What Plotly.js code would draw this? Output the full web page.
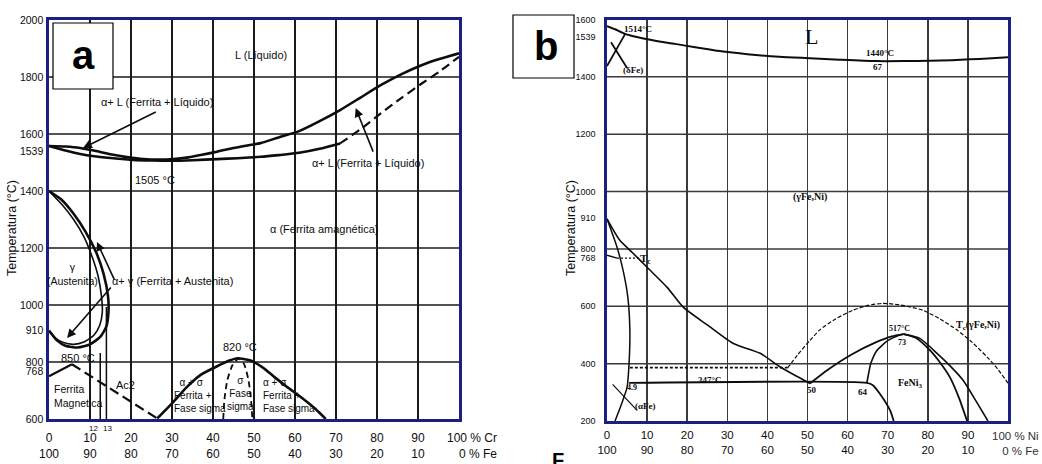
<!DOCTYPE html>
<html><head><meta charset="utf-8">
<script src="https://cdn.plot.ly/plotly-3.0.1.min.js"></script>
<style>html,body{margin:0;padding:0;background:#fff}#chart{width:1042px;height:464px}</style>
</head><body><div id="chart"></div>
<script>
// ---------- Chart a : Fe-Cr ----------
const aXTicks = [0,10,20,30,40,50,60,70,80,90,100];
const aXTop = ['0','10','20','30','40','50','60','70','80','90',''];
const aXBottom = ['100','90','80','70','60','50','40','30','20','10',''];
const aYTicks = [600,768,800,910,1000,1200,1400,1539,1600,1800,2000];
const aHGrid = [800,1000,1200,1400,1600,1800];

const aLiqX = [0,4,7.6,12.5,16,19,23,27,30.3,34,37,41,45,48,51.6,56,61,66,71,76,81,86,91,95,100];
const aLiqT = [1558,1556,1551,1537,1526,1519,1512,1510,1512,1518,1526,1538,1551,1559,1568,1588,1610,1645,1684,1728,1772,1810,1842,1862,1883];
const aSolX = [0,4,7.6,11,15,20.6,25,30,35,41,46,51.6,56,61,66,71];
const aSolT = [1558,1542,1530,1522,1516,1509,1507,1506,1508,1512,1515,1520,1526,1534,1548,1567];
const aSolDashX = [71,76,81,86,91,95.5,100];
const aSolDashT = [1567,1617,1673,1727,1778,1822,1871];
const aLoopOutX = [0,3,6,9,11.5,13.3,14.4,14.5,14,12.5,10,7,4,2,0];
const aLoopOutT = [1400,1370,1320,1255,1185,1110,1030,975,925,888,862,851,857,875,910];
const aLoopInX = [0,3,6,8.5,10.5,12,12.8,13,12.4,11,8.5,6,3.5,1.5,0];
const aLoopInT = [1400,1355,1300,1240,1170,1100,1030,975,930,895,870,862,868,885,910];
const aAc2X = [0,5.6];
const aAc2T = [750,792];
const aAc2DashX = [5.6,26.4];
const aAc2DashT = [792,602];
const aSigmaX = [26.4,30,33.6,37,41,44,46,49,52,55,58,61.4,65,67.5];
const aSigmaT = [602,655,712,755,785,805,813,806,782,747,713,677,635,600];
const aSigmaDashX = [42.5,42.8,43.5,44.8,46.3,47.6,48.6,49.2,49.6];
const aSigmaDashT = [600,670,737,790,812,792,740,680,600];
const aMarkX = [12.5,14];
const aMarkTop = [832,993];
const aMarkLabels = ['12','13'];
const aMarkLabelX = [10.8,14.2];

// ---------- Chart b : Fe-Ni ----------
const bXTicks = [0,10,20,30,40,50,60,70,80,90,100];
const bXTop = ['0','10','20','30','40','50','60','70','80','90',''];
const bXBottom = ['100','90','80','70','60','50','40','30','20','10',''];
const bYTicks = [200,400,600,768,800,910,1000,1200,1400,1539,1600];
const bHGrid = [400,600,800,1000,1200,1400];

const bLiqX = [0,2,4.5,8,12,17,22,28,35,43,50.6,58,67,74,80.5,86,90.5,95,100];
const bLiqT = [1577,1566,1550,1537,1526,1515,1503,1490,1479,1470,1465,1460,1455,1455,1456,1458,1461,1464,1468];
const bDeltaAX = [0,4.5];
const bDeltaAT = [1438,1549];
const bDeltaBX = [1,5];
const bDeltaBT = [1521,1431];
const bSolvX = [0,3.2,6.5,10,15,19,25,31.5,38.2,43,46.5,50.6];
const bSolvT = [905,830,785,736,666,597,535,470,436,390,362,331];
const bAlphaX = [0,2.5,4,5.2,5.7,5.5,5,3.7,2];
const bAlphaT = [905,806,726,631,516,401,317,262,200];
const bTcX = [0,2.5];
const bTcT = [778,768];
const bTcDotX = [2.5,8.5];
const bTcDotT = [768,768];
const bMagX = [5.7,45];
const bMagT = [386,386];
const b347X = [5.5,64.8,66.3,68,70.6,71.5];
const b347T = [333,333,325,296,237,200];
const bDomeLX = [50.6,55,61,67,71,74];
const bDomeLT = [331,378,432,474,495,503];
const bDomeIX = [64.8,65.3,65.8,67.3,70,72.5,74];
const bDomeIT = [333,370,401,446,480,497,503];
const bDomeR1X = [74,77,80.5,83,85.5,87.8,89.8];
const bDomeR1T = [503,490,447,405,353,280,200];
const bDomeR2X = [74,78,82.3,85.5,88.8,92,95];
const bDomeR2T = [503,488,436,393,342,270,200];
const bTcNiX = [45,47.5,50.6,53,57,61.3,65,68.8,73,78.8,83,87.3,91,94.8,97.5,100];
const bTcNiT = [384,430,481,517,556,586,603,610,605,586,556,517,475,423,380,332];
const bLeadX = [1.4,7.5];
const bLeadT = [328,237];

// ---------- helpers ----------
const W = 1042, H = 464;
const PX = x => x / W, PY = y => 1 - y / H;
const SANS = '"Liberation Sans", Arial, sans-serif';
const SERIF = '"Liberation Serif", "Times New Roman", serif';
const INK = '#0d0d0d';
const NAVY = '#1b2080';

const traces = [];
function curve(x, y, ax, width, dash) {
  traces.push({x: x, y: y, xaxis: ax[0], yaxis: ax[1], mode: 'lines', hoverinfo: 'skip',
    line: {color: INK, width: width, dash: dash || 'solid', shape: 'spline', smoothing: 0.6}});
}
const A = ['x', 'y'], B = ['x2', 'y2'];
curve(aLiqX, aLiqT, A, 2.6);
curve(aSolX, aSolT, A, 2.6);
curve(aSolDashX, aSolDashT, A, 2.2, '9px,5px');
curve(aLoopOutX, aLoopOutT, A, 2.6);
curve(aLoopInX, aLoopInT, A, 1.6);
curve(aAc2X, aAc2T, A, 2.2);
curve(aAc2DashX, aAc2DashT, A, 2.2, '10px,5px');
curve(aSigmaX, aSigmaT, A, 2.6);
curve(aSigmaDashX, aSigmaDashT, A, 1.8, '6px,4px');
aMarkX.forEach((m, i) => curve([m, m], [600, aMarkTop[i]], A, 1.5));

curve(bLiqX, bLiqT, B, 2);
curve(bDeltaAX, bDeltaAT, B, 1.8);
curve(bDeltaBX, bDeltaBT, B, 1.8);
curve(bSolvX, bSolvT, B, 1.6);
curve(bAlphaX, bAlphaT, B, 1.5);
curve(bTcX, bTcT, B, 1.4);
curve(bTcDotX, bTcDotT, B, 1.3, '2px,2px');
curve(bMagX, bMagT, B, 1.6, '3px,2px');
curve(b347X, b347T, B, 1.8);
curve(bDomeLX, bDomeLT, B, 1.8);
curve(bDomeIX, bDomeIT, B, 1.6);
curve(bDomeR1X, bDomeR1T, B, 1.8);
curve(bDomeR2X, bDomeR2T, B, 1.6);
curve(bTcNiX, bTcNiT, B, 1.2, '4px,2px');
curve(bLeadX, bLeadT, B, 1.2);

const shapes = [];
aHGrid.forEach(v => shapes.push({type: 'line', xref: 'x domain', yref: 'y', x0: 0, x1: 1, y0: v, y1: v,
  line: {color: '#1a1a1a', width: 1.7}, layer: 'below'}));
bHGrid.forEach(v => shapes.push({type: 'line', xref: 'x2 domain', yref: 'y2', x0: 0, x1: 1, y0: v, y1: v,
  line: {color: '#3a3a3a', width: 1.5}, layer: 'below'}));
// label boxes
shapes.push({type: 'rect', xref: 'paper', yref: 'paper', x0: PX(53), x1: PX(113), y0: PY(89), y1: PY(23),
  line: {color: '#000', width: 1.2}, fillcolor: '#fff', layer: 'above'});
shapes.push({type: 'rect', xref: 'paper', yref: 'paper', x0: PX(513), x1: PX(574), y0: PY(78), y1: PY(15),
  line: {color: '#000', width: 1.2}, fillcolor: '#fff', layer: 'above'});

const anns = [];
function txt(text, x, y, ax, size, o) {
  anns.push(Object.assign({text: text, x: x, y: y, xref: ax[0], yref: ax[1], showarrow: false,
    xanchor: 'center', yanchor: 'middle',
    font: {family: SANS, size: size, color: INK}}, o || {}));
}
function arrow(x, y, tx, ty, ax) {
  anns.push({text: '', x: x, y: y, ax: tx, ay: ty, xref: ax[0], yref: ax[1], axref: ax[0], ayref: ax[1],
    showarrow: true, arrowhead: 2, arrowsize: 1.1, arrowwidth: 1.6, arrowcolor: INK});
}
// chart a texts
txt('L (Líquido)', 51.6, 1877, A, 11);
txt('α+ L (Ferrita + Líquido)', 26.4, 1712, A, 11);
arrow(8.3, 1551, 26.4, 1680, A);
txt('α+ L (Ferrita + Líquido)', 77.8, 1498, A, 11);
arrow(74.8, 1691, 79.2, 1533, A);
txt('1505 °C', 25.9, 1439, A, 11);
txt('α (Ferrita amagnética)', 67, 1267, A, 11);
txt('γ<br>(Austenita)', 5.8, 1110, A, 10.5);
txt('α+ γ (Ferrita + Austenita)', 30, 1084, A, 11);
arrow(11.7, 1221, 16.1, 1084, A);
arrow(4.4, 884, 15.4, 1067, A);
txt('850 °C', 7, 814, A, 11);
txt('Ac2', 18.6, 719, A, 11);
txt('Ferrita<br>Magnetica', 0.7, 681, A, 10.5, {xanchor: 'left', align: 'left'});
txt('  α + σ<br>Ferrita +<br>Fase sigma', 30.1, 684, A, 10, {xanchor: 'left', align: 'left'});
txt('σ<br>Fase<br>sigma', 46.6, 690, A, 10);
txt('α + σ<br>Ferrita +<br>Fase sigma', 51.6, 684, A, 10, {xanchor: 'left', align: 'left'});
txt('820 °C', 46.7, 853, A, 11);
aMarkLabels.forEach((t, i) => txt(t, aMarkLabelX[i], -0.024, ['x', 'y domain'], 8));
// chart b texts
const bS = (t, x, y, s, o) => txt(t, x, y, B, s, Object.assign({font: {family: SERIF, size: s, color: INK, weight: 'bold'}}, o || {}));
txt('L', 51.1, 1539, B, 22, {font: {family: SERIF, size: 22, color: INK}});
bS('1440°C', 68.1, 1483, 9);
bS('67', 67.6, 1434, 9);
bS('1514°C', 7.7, 1567, 9);
bS('(δFe)', 6.4, 1424, 9);
bS('(γFe,Ni)', 50.6, 981, 10);
bS('T<sub>c</sub>', 9.5, 766, 11);
bS('347°C', 25.7, 342, 9);
bS('50', 51, 307, 9);
bS('64', 63.9, 301, 9);
bS('FeNi<sub>3</sub>', 75.6, 330, 10);
bS('517°C', 73, 522, 8);
bS('73', 73.5, 475, 8);
bS('T<sub>c</sub>(γFe,Ni)', 92.6, 534, 10);
bS('4.9', 6.2, 318, 8);
bS('(αFe)', 9.5, 254, 9);

// paper texts: titles, panel letters, axis end labels
const paper = (t, x, y, size, o) => anns.push(Object.assign({text: t, x: PX(x), y: PY(y), xref: 'paper', yref: 'paper',
  xanchor: 'center', yanchor: 'middle', showarrow: false, font: {family: SANS, size: size, color: INK}}, o || {}));
paper('Temperatura (°C)', 12, 228, 12.5, {textangle: -90});
paper('Temperatura (°C)', 571, 228, 12.5, {textangle: -90});
paper('a', 83, 55, 40, {font: {family: SANS, size: 40, color: '#000', weight: 'bold'}});
paper('b', 546, 46, 40, {font: {family: SANS, size: 40, color: '#000', weight: 'bold'}});
paper('100 % Cr<br>0 % Fe', 499, 446, 12, {xanchor: 'right', align: 'right'});
paper('100 % Ni<br>0 % Fe', 1041, 443.5, 11.5, {xanchor: 'right', align: 'right', font: {family: SANS, size: 11.5, color: '#333'}});
paper('F', 558, 447, 20, {yanchor: 'top', font: {family: SANS, size: 20, color: '#000', weight: 'bold'}});

function xAxis(ticks, top, bottom, dom, anchor, size, standoff) {
  return {domain: dom, anchor: anchor, range: [0, 100], tickmode: 'array', tickvals: ticks,
    ticktext: ticks.map((v, i) => top[i] + '<br>' + bottom[i]), ticks: '', ticklabelstandoff: standoff,
    showgrid: true, gridcolor: '#1a1a1a', gridwidth: 1.6, zeroline: false,
    showline: true, linecolor: NAVY, linewidth: 2.6, mirror: true,
    tickfont: {family: SANS, size: size, color: INK}, fixedrange: true};
}
function yAxis(ticks, dom, anchor, range, size, standoff) {
  return {domain: dom, anchor: anchor, range: range, tickmode: 'array', tickvals: ticks,
    ticktext: ticks.map(String), ticks: '', showgrid: false, zeroline: false, ticklabelstandoff: standoff,
    showline: true, linecolor: NAVY, linewidth: 2.6, mirror: true,
    tickfont: {family: SANS, size: size, color: INK}, fixedrange: true};
}
const xa = xAxis(aXTicks, aXTop, aXBottom, [PX(49), PX(459)], 'y', 12, 6);
const xb = xAxis(bXTicks, bXTop, bXBottom, [PX(607), PX(1008)], 'y2', 11.5, 2);
xb.gridcolor = '#3a3a3a'; xb.gridwidth = 1.5;

const layout = {
  width: W, height: H, margin: {l: 0, r: 0, t: 0, b: 0}, showlegend: false,
  paper_bgcolor: '#fff', plot_bgcolor: '#fff',
  xaxis: xa,
  yaxis: yAxis(aYTicks, [PY(419), PY(20)], 'x', [600, 2000], 10.5, 1),
  xaxis2: xb,
  yaxis2: yAxis(bYTicks, [PY(421), PY(19.5)], 'x2', [200, 1600], 9, 7),
  shapes: shapes, annotations: anns
};
Plotly.newPlot('chart', traces, layout, {displayModeBar: false, staticPlot: true});
</script></body></html>
